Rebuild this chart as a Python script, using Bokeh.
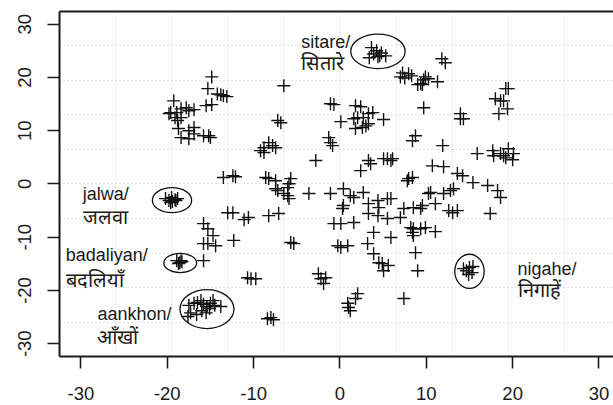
from bokeh.plotting import figure
from bokeh.models import Range1d, FixedTicker, LinearAxis, ColumnDataSource, Grid
from bokeh.core.properties import value
from bokeh.embed import file_html
from bokeh.resources import INLINE

# ---- data (t-SNE style word embedding coordinates) ----
word_x = [
    -14.85, -15.3, -14.2, -13.5, -13.1, -13.8, -15.5, -14.85, -19.25, -19.6, -19.8, -18.9, -18.4, -17.8,
    -17.5, -16.9, -19.1, -18.8, -18.4, -18.7, -18.4, -17.5, -17.5, -16.9, -16.9, -15.8, -15.2, -15.0,
    -20.2, -19.8, -19.5, -19.1, -18.8, -19.6, -19.4, -19.0,
    -13.5, -12.4, -12.1,
    -15.8, -15.3, -14.7, -15.8, -15.3, -14.4, -12.3, -15.8, -13.0, -12.4, -11.1, -10.6,
    -18.9, -18.55, -18.3, -18.7, -18.4,
    -17.5, -16.9, -16.5, -16.1, -15.8, -15.4, -15.0, -14.5, -13.8, -17.3, -16.6, -16.0, -15.5, -15.1, -14.7, -17.6,
    -6.5, -1.1, -0.7, 1.8, 2.4, 1.6, 2.05, 2.7, 3.3, 3.8, 5.05, 0.1, 1.8, 2.6, 3.0, 3.3,
    9.0, 9.55, -7.2, -6.85, -1.3, -1.1, -0.85, 8.75, 8.4,
    -8.25, -8.8, -7.8, -9.2, -7.45, -8.8, -2.8, 3.3, 3.55, 2.4, 5.05, 5.5, 5.9, 6.1,
    8.4, 7.95, 7.8, -8.6, -8.25, -7.45, -5.7, -5.9, -7.45, -7.2, -6.5, -6.05, -5.9, -6.05,
    -3.6, -1.1, 0.4, 1.2, 1.6, 2.7, 0.4, 0.3, 3.3, 4.4, 4.5, 5.5, 5.9,
    7.4, 8.5, 9.35, 9.55, 10.25, 3.3, 4.4, 5.5, 7.0, -8.25, -7.1,
    -0.7, 0.1, 1.6, 3.9, 5.9, 8.2, 8.4, 8.5, 9.35, 9.9,
    -5.7, -5.35, -0.25, 0.1, 0.9, 3.2, 3.9, 4.5, 4.9, 5.6, 5.05, 8.75, 9.0,
    -10.7, -10.3, -9.75, -2.5, -2.2, -1.65, -1.9, 2.05, 1.8, 0.9, 1.0, 1.2, 7.4, -8.0, -8.4, -7.7,
    11.8, 12.2, 9.9, 9.7, 9.35, 11.3, 10.25, 9.7,
    19.2, 19.5, 18.0, 18.6, 18.4, 19.4, 18.95, 13.95, 13.95, 14.3, 11.9,
    15.9, 17.7, 17.8, 18.6, 18.95, 19.5, 20.1, 20.0, 19.2,
    10.7, 12.0, 13.6, 14.2, 15.4, 17.1, 18.25, 18.6, 13.15, 12.8, 12.0, 10.5, 11.05,
    12.6, 13.05, 13.6, 17.4, 8.5, 11.05,
    3.65, 3.9, 4.25, 4.6, 4.8, 5.3, 3.4, 4.4,
    7.0, 7.5, 7.95, 7.25, 8.3,
    14.3, 14.65, 15.0, 15.3, 14.9, 15.4,
]
word_y = [
    20.1, 17.9, 16.9, 16.55, 16.4, 16.75, 14.7, 14.9, 15.6, 13.4, 13.2, 13.4, 14.1, 14.3,
    13.75, 13.95, 12.45, 11.9, 12.45, 10.4, 8.7, 10.0, 8.5, 10.6, 9.4, 9.05, 9.05, 8.7,
    -2.75, -3.1, -2.55, -2.95, -2.75, -3.5, -3.3, -3.1,
    1.2, 1.55, 1.35,
    -7.45, -8.4, -9.7, -11.2, -11.2, -11.6, -10.6, -14.4, -5.4, -5.4, -6.7, -6.3,
    -14.4, -14.8, -14.6, -14.95, -14.4,
    -22.8, -22.4, -22.25, -21.9, -22.6, -23.0, -22.4, -22.8, -23.0, -24.2, -24.5, -23.8, -24.2, -23.4, -21.9, -24.9,
    18.45, 15.05, 14.9, 14.7, 14.5, 12.25, 12.45, 12.45, 13.2, 13.4, 12.1, 11.7, 10.4, 10.6, 10.9, 11.3,
    18.65, 18.65, 11.9, 11.5, 8.7, 7.75, 7.2, 9.05, 8.1,
    7.75, 6.8, 7.2, 6.25, 6.8, 5.9, 4.4, 4.4, 3.8, 2.5, 4.75, 4.75, 4.4, 4.75,
    1.2, 1.0, 0.6, 1.2, 1.0, 0.6, 1.0, 0.05, -0.9, -1.25, -1.8, -2.2, -2.75, -0.7,
    -1.8, -1.8, -0.9, -2.2, -2.55, -1.6, -4.05, -4.6, -3.7, -3.1, -4.45, -2.75, -2.75,
    -4.6, -4.45, -4.6, -4.05, -1.8, -5.55, -5.95, -6.5, -6.3, -5.95, -5.55,
    -7.45, -7.45, -7.25, -9.1, -10.05, -8.2, -9.1, -9.7, -8.4, -8.2,
    -11.0, -11.2, -11.6, -11.95, -11.6, -11.2, -13.1, -14.8, -14.95, -15.3, -16.3, -12.9, -16.3,
    -17.6, -17.8, -17.8, -16.85, -17.8, -17.6, -18.7, -20.6, -21.5, -22.4, -23.2, -23.8, -21.5, -25.1, -25.3, -25.5,
    23.5, 22.75, 20.1, 19.55, 18.8, 19.2, 19.75, 14.3,
    17.9, 17.9, 16.0, 15.6, 13.2, 14.1, 15.6, 13.2, 12.25, 12.25, 7.2,
    5.7, 6.25, 5.3, 5.7, 5.3, 6.6, 5.7, 4.55, 4.9,
    3.4, 3.25, 1.95, 1.55, 0.25, -0.3, -1.25, -2.55, -0.9, -1.25, -1.8, -1.6, -3.7,
    -5.0, -5.4, -5.0, -5.55, -8.4, -8.95,
    25.6, 24.4, 25.0, 24.05, 24.6, 24.05, 23.7, 23.9,
    20.1, 19.9, 20.7, 20.85, 20.3,
    -15.9, -16.3, -15.7, -16.65, -17.0, -15.5,
]

# highlighted word clusters
circle_words = ["sitare", "jalwa", "badaliyan", "aankhon", "nigahe"]
circle_x = [4.4, -19.45, -18.5, -15.4, 15.0]
circle_y = [24.9, -3.05, -14.85, -23.5, -16.4]
circle_w = [6.3, 4.55, 3.8, 6.25, 3.4]
circle_h = [6.5, 4.7, 3.6, 7.3, 6.4]

label_latin = ["sitare/", "jalwa/", "badaliyan/", "aankhon/", "nigahe/"]
label_hindi = ["सितारे", "जलवा", "बदलियाँ", "आँखों", "निगाहें"]
label_x = [-4.47, -29.8, -31.75, -28.08, 20.57]
label_y1 = [26.6, -1.84, -13.26, -24.5, -15.9]
label_y2 = [22.76, -6.13, -17.96, -28.65, -20.0]

tick_vals = [-30, -20, -10, 0, 10, 20, 30]
tick_text = ["-30", "-20", "-10", "0", "10", "20", "30"]
grid_vals = [-26, -19.5, -13, -6.5, 0, 6.5, 13, 19.5, 26]

FONT = "Liberation Sans"
INK = "#1a1a1a"

p = figure(width=613, height=405, output_backend="svg", toolbar_location=None,
           x_range=Range1d(-32.48, 31.68), y_range=Range1d(-32.4, 32.38),
           x_axis_type=None, y_axis_type=None,
           min_border_left=59, min_border_right=0, min_border_top=11, min_border_bottom=49)
p.outline_line_color = None
p.background_fill_color = "white"
p.border_fill_color = "white"

def style_axis(ax):
    ax.axis_line_color = INK
    ax.axis_line_width = 2
    ax.major_tick_line_color = INK
    ax.major_tick_line_width = 1.6
    ax.major_tick_out = 12
    ax.major_tick_in = 0
    ax.minor_tick_out = 0
    ax.minor_tick_in = 0
    ax.major_label_text_font = FONT
    ax.major_label_text_font_size = "18.5px"
    ax.major_label_text_color = INK
    ax.major_label_overrides = {float(v): t for v, t in zip(tick_vals, tick_text)}

xa = LinearAxis(ticker=FixedTicker(ticks=tick_vals))
style_axis(xa)
xa.major_label_standoff = 18
p.add_layout(xa, "below")

ya = LinearAxis(ticker=FixedTicker(ticks=tick_vals))
style_axis(ya)
ya.major_label_orientation = "vertical"
ya.major_label_standoff = 16
p.add_layout(ya, "left")

ta = LinearAxis(ticker=FixedTicker(ticks=[]))
style_axis(ta)
ta.major_tick_out = 0
ta.major_label_text_font_size = "0px"
p.add_layout(ta, "above")

for dim in (0, 1):
    g = Grid(dimension=dim, ticker=FixedTicker(ticks=grid_vals))
    g.grid_line_color = "#c4c4c4"
    g.grid_line_dash = "1 3"
    g.grid_line_width = 1
    p.add_layout(g)

src = ColumnDataSource(dict(x=word_x, y=word_y))
p.scatter("x", "y", source=src, marker="cross", size=13, line_color="#111111",
          line_width=1.4)

p.ellipse(x=circle_x, y=circle_y, width=circle_w, height=circle_h,
          fill_color=None, line_color="#111111", line_width=1.3)

p.text(x=label_x, y=label_y1, text=label_latin, text_font=value(FONT),
       text_font_size="18px", text_color=INK, text_align="left", text_baseline="alphabetic")
p.text(x=label_x, y=label_y2, text=label_hindi, text_font=value(FONT),
       text_font_size="20px", text_color=INK, text_align="left", text_baseline="alphabetic")

open("out.html", "w").write(file_html(p, INLINE))
